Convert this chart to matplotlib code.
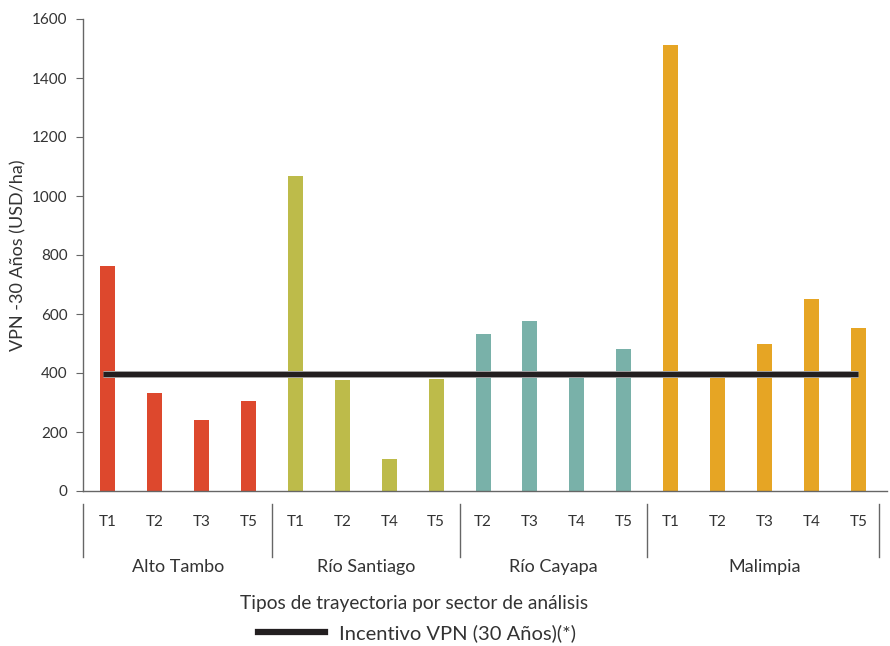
import numpy as np
import matplotlib
matplotlib.use("Agg")
import matplotlib.pyplot as plt
import matplotlib.patheffects as pe
from matplotlib.lines import Line2D

plt.rcParams['font.family'] = ['Lato', 'DejaVu Sans']

sectors = ['Alto Tambo', 'Río Santiago', 'Río Cayapa', 'Malimpia']
trajectories = [
    ['T1', 'T2', 'T3', 'T5'],
    ['T1', 'T2', 'T4', 'T5'],
    ['T2', 'T3', 'T4', 'T5'],
    ['T1', 'T2', 'T3', 'T4', 'T5'],
]
vpn = [
    [763, 332, 241, 305],
    [1068, 376, 108, 380],
    [532, 576, 395, 481],
    [1512, 390, 498, 651, 553],
]
incentive = 395
colors = ['#DD482D', '#BDBB4A', '#79B1A9', '#E6A524']

text_color = '#333333'
spine_color = '#666666'

fig = plt.figure(figsize=(8.9, 6.46), dpi=100)
ax = fig.add_axes([83 / 890, 1 - 491 / 646, 1 - 83 / 890 - 0.003, (491 - 19) / 646])

x = 0
bounds = [-0.53]
for name, labels, vals, c in zip(sectors, trajectories, vpn, colors):
    pos = np.arange(x, x + len(vals))
    ax.bar(pos, vals, width=0.32, color=c, zorder=2)
    for p, lab in zip(pos, labels):
        ax.text(p, -0.05, lab, transform=ax.get_xaxis_transform(),
                ha='center', va='top', fontsize=11, color=text_color)
    ax.text(pos.mean(), -0.145, name, transform=ax.get_xaxis_transform(),
            ha='center', va='top', fontsize=13, color=text_color)
    x += len(vals)
    bounds.append(x - 0.5)
bounds[-1] = 16.45

# group separators below the axis
for b in bounds:
    ax.add_line(Line2D([b, b], [-0.028, -0.14], transform=ax.get_xaxis_transform(),
                       color=spine_color, lw=1, clip_on=False))

ax.hlines(incentive, -0.1, 16.0, color='#231F20', lw=3.8, zorder=3,
          path_effects=[pe.Stroke(linewidth=5, foreground='#b5b5b5'), pe.Normal()])

ax.set_xlim(-0.53, 16.62)
ax.set_ylim(0, 1600)
ax.set_yticks(np.arange(0, 1601, 200))
ax.set_xticks([])
ax.tick_params(axis='y', direction='out', length=5, color=spine_color,
               labelsize=11, labelcolor=text_color, pad=6)
for s in ['top', 'right']:
    ax.spines[s].set_visible(False)
for s in ['left', 'bottom']:
    ax.spines[s].set_color(spine_color)
    ax.spines[s].set_linewidth(1)

fig.text(18 / 890, 1 - 255 / 646, 'VPN -30 Años (USD/ha)', rotation=90,
         ha='center', va='center', fontsize=13, color=text_color)
fig.text(414 / 890, 1 - 603 / 646, 'Tipos de trayectoria por sector de análisis',
         ha='center', va='center', fontsize=13.8, color=text_color)

handle = Line2D([], [], color='#231F20', lw=4.5)
fig.legend([handle], ['Incentivo VPN (30 Años)(*)'], loc='center',
           bbox_to_anchor=(417 / 890, 1 - 633 / 646), frameon=False,
           fontsize=14.5, handlelength=3.3, handletextpad=0.7,
           labelcolor=text_color)

fig.savefig('out.png', dpi=100)
